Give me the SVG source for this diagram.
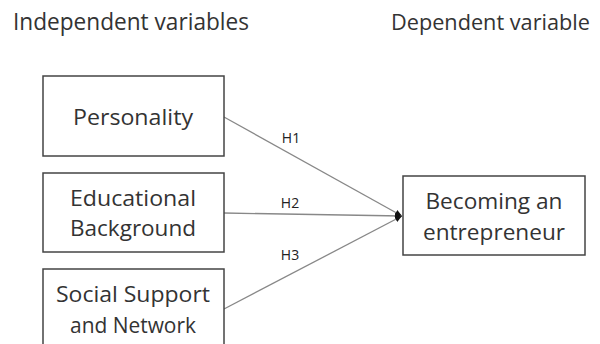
<svg xmlns="http://www.w3.org/2000/svg" width="600" height="344" viewBox="0 0 600 344">
<style>
text{font-family:"Open Sans","Liberation Sans",sans-serif;fill:#333}
.t{font-size:23px}
.n{font-size:22px;text-anchor:middle}
.h{font-size:14px;text-anchor:middle;fill:#222}
.box{fill:#fff;stroke:#444;stroke-width:1.5}
.c line{stroke:#888;stroke-width:1.3}
</style>
<defs>
<marker id="a" markerWidth="8" markerHeight="8" refX="7" refY="4" orient="auto" markerUnits="userSpaceOnUse">
<path d="M0,1 L7,4 L0,7 Z" fill="#111"/>
</marker>
</defs>
<rect width="600" height="344" fill="#fff"/>
<text class="t" x="13" y="30" textLength="236" lengthAdjust="spacingAndGlyphs">Independent variables</text>
<text class="t" x="391" y="30" style="font-size:22px" textLength="199" lengthAdjust="spacingAndGlyphs">Dependent variable</text>
<g class="c">
<line x1="224" y1="117" x2="402" y2="216" marker-end="url(#a)"/>
<line x1="224" y1="213" x2="402" y2="216" marker-end="url(#a)"/>
<line x1="224" y1="309" x2="402" y2="216" marker-end="url(#a)"/>
<text class="h" x="291" y="143">H1</text>
<text class="h" x="290" y="208">H2</text>
<text class="h" x="290" y="260">H3</text>
</g>
<g id="personality">
<rect class="box" x="43" y="76" width="181" height="80"/>
<text class="n" x="133" y="125" textLength="120" lengthAdjust="spacingAndGlyphs">Personality</text>
</g>
<g id="education">
<rect class="box" x="43" y="173" width="181" height="79"/>
<text class="n" x="133" y="206" textLength="126" lengthAdjust="spacingAndGlyphs">Educational</text>
<text class="n" x="133" y="236" textLength="126" lengthAdjust="spacingAndGlyphs">Background</text>
</g>
<g id="social">
<rect class="box" x="43" y="269" width="181" height="90"/>
<text class="n" x="133" y="302" textLength="154" lengthAdjust="spacingAndGlyphs">Social Support</text>
<text class="n" x="133" y="333" textLength="126" lengthAdjust="spacingAndGlyphs">and Network</text>
</g>
<g id="becoming">
<rect class="box" x="403" y="176" width="182" height="79"/>
<text class="n" x="494" y="209" textLength="137" lengthAdjust="spacingAndGlyphs">Becoming an</text>
<text class="n" x="494" y="240" textLength="142" lengthAdjust="spacingAndGlyphs">entrepreneur</text>
</g>
</svg>
